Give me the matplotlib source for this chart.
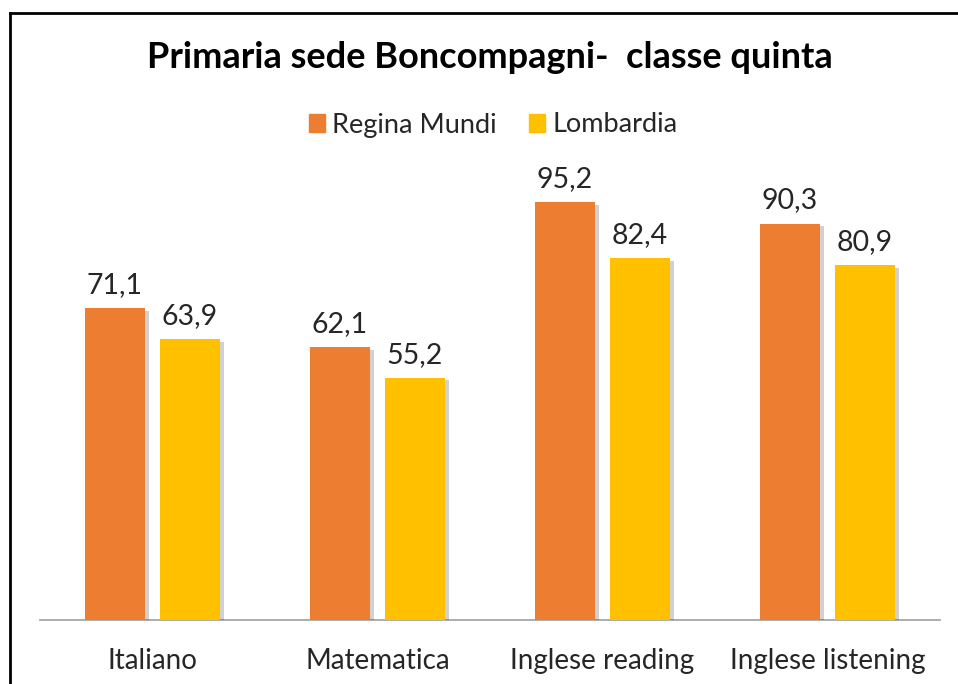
import matplotlib
matplotlib.use("Agg")
import matplotlib.pyplot as plt
import matplotlib.patheffects as pe
from matplotlib.patches import Rectangle
from matplotlib.lines import Line2D
import numpy as np

categories = ["Italiano", "Matematica", "Inglese reading", "Inglese listening"]
series_names = ["Regina Mundi", "Lombardia"]
regina_mundi = [71.1, 62.1, 95.2, 90.3]
lombardia = [63.9, 55.2, 82.4, 80.9]
colors = ["#ED7D31", "#FFC000"]
title = "Primaria sede Boncompagni-  classe quinta"

plt.rcParams['font.family'] = ['Lato', 'DejaVu Sans']
text_color = "#262626"

fig = plt.figure(figsize=(9.58, 6.84), dpi=100)
ax = fig.add_axes([40/958, 64/684, 900/958, 439/684])

x = np.arange(len(categories))
w = 60/225
off = 37.5/225
shadow = [pe.SimplePatchShadow(offset=(3, -2), shadow_rgbFace="#000000", alpha=0.18), pe.Normal()]
for vals, c, dx, name in [(regina_mundi, colors[0], -off, series_names[0]), (lombardia, colors[1], off, series_names[1])]:
    bars = ax.bar(x + dx, vals, width=w, color=c, label=name, zorder=3)
    for b, v in zip(bars, vals):
        b.set_path_effects(shadow)
        ax.text(b.get_x() + b.get_width()/2, v + 2.3, f"{v:.1f}".replace(".", ","),
                ha="center", va="bottom", fontsize=20.5, color=text_color)

ax.set_xlim(-0.5, len(categories) - 0.5)
ax.set_ylim(0, 100)
ax.set_yticks([])
for s in ["top", "right", "left"]:
    ax.spines[s].set_visible(False)
ax.spines["bottom"].set_color("#A6A6A6")
ax.spines["bottom"].set_linewidth(1.3)
ax.set_xticks(x)
ax.set_xticklabels(categories, fontsize=20, color=text_color)
ax.tick_params(axis="x", length=0, pad=20)

fig.text(490/958, 1 - 58/684, title, ha="center", va="center", fontsize=26, fontweight="bold", color="#000000")
handles = [Rectangle((0, 0), 1, 1, color=c) for c in colors]
fig.legend(handles, series_names, loc="center", bbox_to_anchor=(493/958, 1 - 125/684), ncol=2,
           frameon=False, fontsize=19.5, handlelength=0.6, handleheight=0.6, handletextpad=0.25,
           columnspacing=1.2, labelcolor=text_color)

# frame
fig.add_artist(Line2D([10/958, 1], [1 - 13/684, 1 - 13/684], transform=fig.transFigure, color="black", lw=2))
fig.add_artist(Line2D([10/958, 10/958], [0, 1 - 13/684], transform=fig.transFigure, color="black", lw=2))

fig.savefig("out.png", dpi=100)
